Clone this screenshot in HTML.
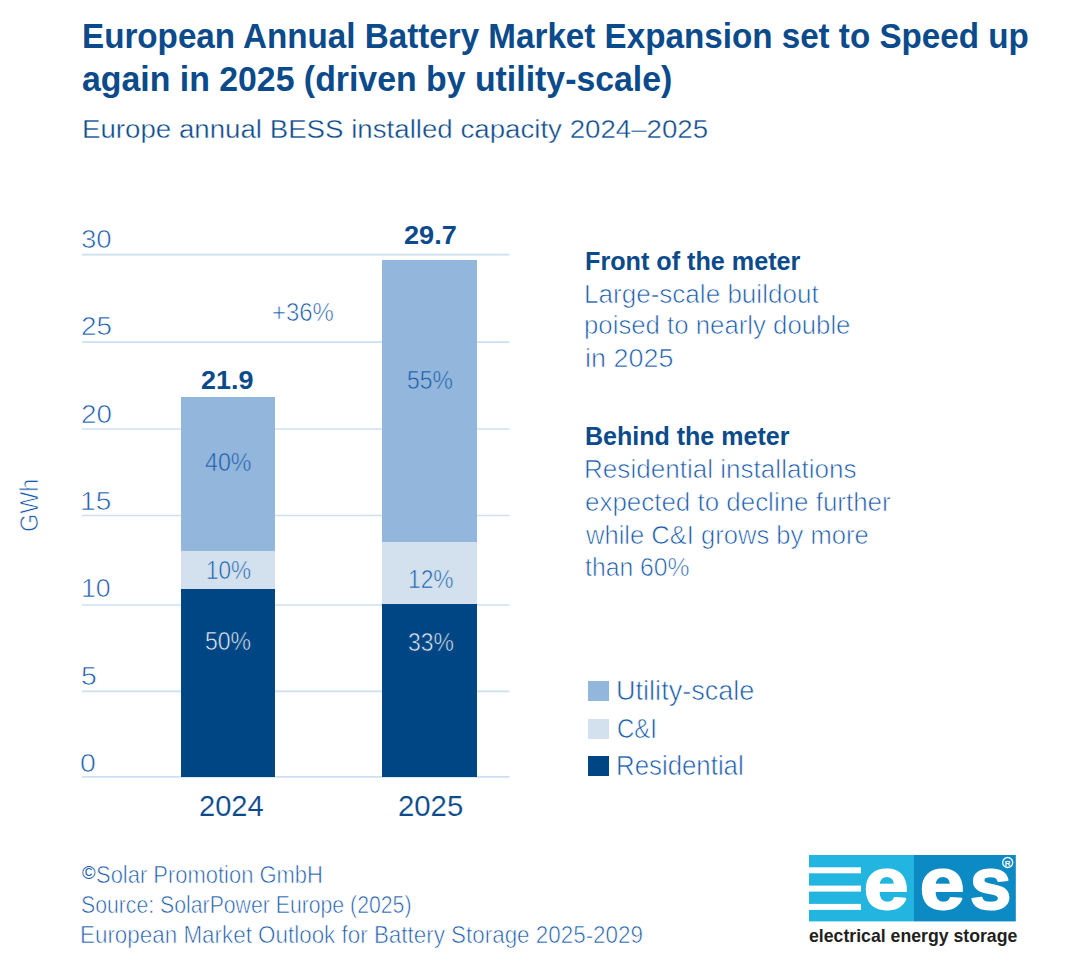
<!DOCTYPE html>
<html><head><meta charset="utf-8">
<style>
html,body{margin:0;padding:0;background:#fff;}
body{width:1075px;height:970px;position:relative;overflow:hidden;font-family:"Liberation Sans",sans-serif;}
.t{position:absolute;white-space:nowrap;line-height:1;transform-origin:0 0;}

.bar{position:absolute;}
.sq{position:absolute;left:588px;width:21px;height:20px;}
</style></head><body>
<svg class="grid" style="position:absolute;left:0;top:0;width:1075px;height:970px;background:none" width="1075" height="970"><line x1="82" x2="509.5" y1="254.6" y2="254.6" stroke="#cddff3" stroke-width="1.7"/><line x1="82" x2="509.5" y1="342.2" y2="342.2" stroke="#cddff3" stroke-width="1.7"/><line x1="82" x2="509.5" y1="429.0" y2="429.0" stroke="#cddff3" stroke-width="1.7"/><line x1="82" x2="509.5" y1="515.5" y2="515.5" stroke="#cddff3" stroke-width="1.7"/><line x1="82" x2="509.5" y1="605.0" y2="605.0" stroke="#cddff3" stroke-width="1.7"/><line x1="82" x2="509.5" y1="691.3" y2="691.3" stroke="#cddff3" stroke-width="1.7"/><line x1="82" x2="509.5" y1="776.8" y2="776.8" stroke="#cddff3" stroke-width="1.7"/></svg>

<div class="bar" style="left:181px;top:397px;width:94px;height:154px;background:#93b6dc"></div>
<div class="bar" style="left:181px;top:551px;width:94px;height:38px;background:#d3e1ef"></div>
<div class="bar" style="left:181px;top:589px;width:94px;height:188px;background:#004685"></div>
<div class="bar" style="left:382px;top:260px;width:95px;height:282px;background:#93b6dc"></div>
<div class="bar" style="left:382px;top:542px;width:95px;height:62px;background:#d3e1ef"></div>
<div class="bar" style="left:382px;top:604px;width:95px;height:173px;background:#004685"></div>

<div class="sq" style="top:681px;background:#93b6dc"></div>
<div class="sq" style="top:719px;background:#d3e1ef"></div>
<div class="sq" style="top:756px;background:#004685"></div>

<div id="gwh" style="position:absolute;left:16.8px;top:531.6px;font-size:25px;line-height:1;white-space:nowrap;color:#1a5ba9;transform-origin:0 0;transform:rotate(-90deg) scaleX(0.935);-webkit-text-stroke:0.7px #fff">GWh</div>

<div id="copy" style="position:absolute;left:81.9px;top:864.4px;font-size:18.4px;line-height:1;color:#1a5ba9">©</div>
<div class="t" id="title1" style="left:81.60px;top:18.09px;font-size:35.30px;font-weight:bold;color:#0b4a8b;transform:scaleX(0.9404)">European Annual Battery Market Expansion set to Speed up</div>
<div class="t" id="title2" style="left:82.00px;top:61.49px;font-size:35.30px;font-weight:bold;color:#0b4a8b;transform:scaleX(0.9584)">again in 2025 (driven by utility-scale)</div>
<div class="t" id="sub" style="left:81.80px;top:115.73px;font-size:26.00px;font-weight:normal;color:#0b4a8b;transform:scaleX(1.0643);-webkit-text-stroke:0.4px #fff">Europe annual BESS installed capacity 2024–2025</div>
<div class="t" id="ax30" style="left:80.80px;top:226.01px;font-size:26.50px;font-weight:normal;color:#1a5ba9;transform:scaleX(1.0411);-webkit-text-stroke:0.65px #fff">30</div>
<div class="t" id="ax25" style="left:80.80px;top:313.47px;font-size:26.50px;font-weight:normal;color:#1a5ba9;transform:scaleX(1.0508);-webkit-text-stroke:0.65px #fff">25</div>
<div class="t" id="ax20" style="left:80.80px;top:400.67px;font-size:26.50px;font-weight:normal;color:#1a5ba9;transform:scaleX(1.0478);-webkit-text-stroke:0.65px #fff">20</div>
<div class="t" id="ax15" style="left:80.00px;top:488.18px;font-size:26.50px;font-weight:normal;color:#1a5ba9;transform:scaleX(1.0610);-webkit-text-stroke:0.65px #fff">15</div>
<div class="t" id="ax10" style="left:81.40px;top:575.47px;font-size:26.50px;font-weight:normal;color:#1a5ba9;transform:scaleX(1.0067);-webkit-text-stroke:0.65px #fff">10</div>
<div class="t" id="ax5" style="left:80.80px;top:662.67px;font-size:26.50px;font-weight:normal;color:#1a5ba9;transform:scaleX(1.0711);-webkit-text-stroke:0.65px #fff">5</div>
<div class="t" id="ax0" style="left:80.40px;top:749.91px;font-size:26.50px;font-weight:normal;color:#1a5ba9;transform:scaleX(1.0725);-webkit-text-stroke:0.65px #fff">0</div>
<div class="t" id="tot1" style="left:201.40px;top:367.25px;font-size:26.30px;font-weight:bold;color:#0b4a8b;transform:scaleX(1.0231)">21.9</div>
<div class="t" id="tot2" style="left:404.00px;top:221.56px;font-size:26.30px;font-weight:bold;color:#0b4a8b;transform:scaleX(1.0300)">29.7</div>
<div class="t" id="p40" style="left:205.00px;top:449.13px;font-size:26.60px;font-weight:normal;color:#1a5ba9;transform:scaleX(0.8742);-webkit-text-stroke:0.65px #93b6dc">40%</div>
<div class="t" id="p10" style="left:206.00px;top:557.09px;font-size:26.60px;font-weight:normal;color:#1a5ba9;transform:scaleX(0.8493);-webkit-text-stroke:0.65px #d3e1ef">10%</div>
<div class="t" id="p50" style="left:205.40px;top:628.38px;font-size:26.60px;font-weight:normal;color:#e8eef6;transform:scaleX(0.8652);-webkit-text-stroke:0.65px #004685">50%</div>
<div class="t" id="p55" style="left:407.20px;top:366.51px;font-size:26.60px;font-weight:normal;color:#1a5ba9;transform:scaleX(0.8612);-webkit-text-stroke:0.65px #93b6dc">55%</div>
<div class="t" id="p12" style="left:408.00px;top:565.51px;font-size:26.60px;font-weight:normal;color:#1a5ba9;transform:scaleX(0.8573);-webkit-text-stroke:0.65px #d3e1ef">12%</div>
<div class="t" id="p33" style="left:407.60px;top:628.69px;font-size:26.60px;font-weight:normal;color:#e8eef6;transform:scaleX(0.8617);-webkit-text-stroke:0.65px #004685">33%</div>
<div class="t" id="p36" style="left:272.00px;top:299.07px;font-size:26.60px;font-weight:normal;color:#1a5ba9;transform:scaleX(0.9001);-webkit-text-stroke:0.65px #fff">+36%</div>
<div class="t" id="y24" style="left:198.60px;top:792.31px;font-size:28.60px;font-weight:normal;color:#0b4a8b;transform:scaleX(1.0171);-webkit-text-stroke:0.15px #fff">2024</div>
<div class="t" id="y25" style="left:397.60px;top:792.31px;font-size:28.60px;font-weight:normal;color:#0b4a8b;transform:scaleX(1.0254);-webkit-text-stroke:0.15px #fff">2025</div>
<div class="t" id="hd1" style="left:585.40px;top:248.65px;font-size:25.60px;font-weight:bold;color:#0b4a8b;transform:scaleX(0.9836)">Front of the meter</div>
<div class="t" id="bd1" style="left:584.40px;top:281.56px;font-size:25.00px;font-weight:normal;color:#1a5ba9;transform:scaleX(1.0422);-webkit-text-stroke:0.65px #fff">Large-scale buildout</div>
<div class="t" id="bd2" style="left:584.40px;top:312.56px;font-size:25.00px;font-weight:normal;color:#1a5ba9;transform:scaleX(1.0306);-webkit-text-stroke:0.65px #fff">poised to nearly double</div>
<div class="t" id="bd3" style="left:585.40px;top:345.96px;font-size:25.00px;font-weight:normal;color:#1a5ba9;transform:scaleX(1.0773);-webkit-text-stroke:0.65px #fff">in 2025</div>
<div class="t" id="hd2" style="left:585.40px;top:424.40px;font-size:25.60px;font-weight:bold;color:#0b4a8b;transform:scaleX(0.9777)">Behind the meter</div>
<div class="t" id="bd4" style="left:584.40px;top:457.06px;font-size:25.00px;font-weight:normal;color:#1a5ba9;transform:scaleX(1.0432);-webkit-text-stroke:0.65px #fff">Residential installations</div>
<div class="t" id="bd5" style="left:585.40px;top:490.01px;font-size:25.00px;font-weight:normal;color:#1a5ba9;transform:scaleX(1.0374);-webkit-text-stroke:0.65px #fff">expected to decline further</div>
<div class="t" id="bd6" style="left:586.40px;top:523.01px;font-size:25.00px;font-weight:normal;color:#1a5ba9;transform:scaleX(1.0225);-webkit-text-stroke:0.65px #fff">while C&amp;I grows by more</div>
<div class="t" id="bd7" style="left:585.40px;top:554.81px;font-size:25.00px;font-weight:normal;color:#1a5ba9;transform:scaleX(0.9900);-webkit-text-stroke:0.65px #fff">than 60%</div>
<div class="t" id="lg1" style="left:616.20px;top:676.03px;font-size:28.30px;font-weight:normal;color:#1a5ba9;transform:scaleX(0.9570);-webkit-text-stroke:0.65px #fff">Utility-scale</div>
<div class="t" id="lg2" style="left:617.20px;top:713.86px;font-size:28.30px;font-weight:normal;color:#1a5ba9;transform:scaleX(0.8460);-webkit-text-stroke:0.65px #fff">C&amp;I</div>
<div class="t" id="lg3" style="left:616.20px;top:750.68px;font-size:28.30px;font-weight:normal;color:#1a5ba9;transform:scaleX(0.9123);-webkit-text-stroke:0.65px #fff">Residential</div>
<div class="t" id="ft1" style="left:96.00px;top:862.93px;font-size:24.20px;font-weight:normal;color:#1a5ba9;transform:scaleX(0.9073);-webkit-text-stroke:0.65px #fff">Solar Promotion GmbH</div>
<div class="t" id="ft2" style="left:81.00px;top:893.30px;font-size:24.20px;font-weight:normal;color:#1a5ba9;transform:scaleX(0.8778);-webkit-text-stroke:0.65px #fff">Source: SolarPower Europe (2025)</div>
<div class="t" id="ft3" style="left:80.00px;top:922.90px;font-size:24.20px;font-weight:normal;color:#1a5ba9;transform:scaleX(0.9263);-webkit-text-stroke:0.65px #fff">European Market Outlook for Battery Storage 2025-2029</div>

<svg id="logo" style="position:absolute;left:0;top:0" width="1075" height="970">
  <rect x="809" y="855" width="105" height="66.4" fill="#22b5e0"/>
  <rect x="914" y="855" width="101.8" height="66.4" fill="#0b8ac4"/>
  <rect x="809" y="867.3" width="52" height="6" fill="#fff"/>
  <rect x="809" y="885.6" width="52" height="6" fill="#fff"/>
  <rect x="809" y="903.9" width="52" height="6" fill="#fff"/>
  <g font-family="Liberation Sans" font-weight="bold" font-size="74.8" fill="#fff" stroke="#fff" stroke-width="2" stroke-linejoin="round">
  <text transform="translate(863.75,909.07) scale(1.0797,1)">e</text>
  <text transform="translate(919.85,909.07) scale(1.0797,1)">e</text>
  <text transform="translate(969.76,909.07) scale(1.0027,1)">s</text>
  </g>
  <circle cx="1007.7" cy="862.5" r="5" fill="none" stroke="#fff" stroke-width="1.3"/>
  <text x="1007.7" y="865.5" font-family="Liberation Sans" font-weight="bold" font-size="8" fill="#fff" text-anchor="middle">R</text>
  <text id="ees" transform="translate(809,942.3) scale(0.983,1)" font-family="Liberation Sans" font-weight="bold" font-size="18" fill="#231f20">electrical energy storage</text>
</svg>
</body></html>
